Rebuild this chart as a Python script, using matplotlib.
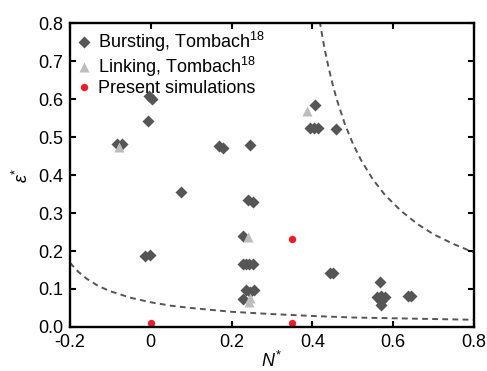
import numpy as np
import matplotlib
matplotlib.use('Agg')
import matplotlib.pyplot as plt

plt.rcParams['font.family'] = ['Liberation Sans', 'DejaVu Sans']
plt.rcParams['mathtext.fontset'] = 'custom'
plt.rcParams['mathtext.rm'] = 'Liberation Sans'
plt.rcParams['mathtext.it'] = 'Liberation Sans:italic'
plt.rcParams['mathtext.default'] = 'regular'

# Tombach, bursting (N*, eps*)
burst_n = [-0.005, 0.003, -0.008, -0.084, -0.072, 0.168, 0.178, 0.246,
           0.406, 0.395, 0.405, 0.415, 0.458, 0.074, -0.014, -0.002,
           0.240, 0.252, 0.229, 0.228, 0.236, 0.244, 0.252,
           0.235, 0.245, 0.255, 0.229, 0.443, 0.452,
           0.567, 0.560, 0.570, 0.580, 0.570, 0.570, 0.636, 0.644]
burst_e = [0.607, 0.600, 0.542, 0.481, 0.481, 0.476, 0.471, 0.479,
           0.583, 0.524, 0.524, 0.524, 0.520, 0.354, 0.188, 0.189,
           0.335, 0.330, 0.239, 0.165, 0.165, 0.165, 0.165,
           0.097, 0.093, 0.097, 0.073, 0.143, 0.143,
           0.118, 0.080, 0.082, 0.080, 0.068, 0.058, 0.082, 0.082]

# Tombach, linking
link_n = [-0.079, 0.387, 0.241, 0.246, 0.244]
link_e = [0.474, 0.569, 0.237, 0.077, 0.067]

# present simulations
sim_n = [0.0, 0.349, 0.349]
sim_e = [0.01, 0.231, 0.01]

# dashed boundaries
low_n = [-0.2, -0.18, -0.16, -0.13, -0.1, -0.05, 0.0, 0.05, 0.1, 0.2,
         0.3, 0.4, 0.5, 0.6, 0.7, 0.8]
low_e = [0.169, 0.146, 0.128, 0.108, 0.094, 0.077, 0.065, 0.056, 0.050,
         0.040, 0.034, 0.029, 0.025, 0.023, 0.021, 0.019]
up_n = [0.418, 0.43, 0.44, 0.45, 0.46, 0.48, 0.50, 0.52, 0.55, 0.58,
        0.62, 0.66, 0.70, 0.75, 0.80]
up_e = [0.805, 0.733, 0.683, 0.639, 0.600, 0.535, 0.483, 0.440, 0.388,
        0.347, 0.305, 0.271, 0.244, 0.218, 0.196]

fig = plt.figure(figsize=(4.87, 3.71), dpi=100)
ax = fig.add_axes([0.1437, 0.1186, 0.8296, 0.8194])

dash = (3, 2.2)
ax.plot(low_n, low_e, ls='--', dashes=dash, c='#555555', lw=1.4)
ax.plot(up_n, up_e, ls='--', dashes=dash, c='#555555', lw=1.4)

ax.plot(burst_n, burst_e, 'D', ms=6, c='#555555', mec='none',
        label='Bursting, Tombach$^{18}$')
ax.plot(link_n, link_e, '^', ms=7.5, c='#bdbdbd', mec='none',
        label='Linking, Tombach$^{18}$')
ax.plot(sim_n, sim_e, 'o', ms=5.3, c='#ee1c24', mec='none',
        label='Present simulations')

ax.set_xlim(-0.2, 0.8)
ax.set_ylim(0, 0.8)
ax.set_xticks([-0.2, 0, 0.2, 0.4, 0.6, 0.8])
ax.set_xticklabels(['-0.2', '0', '0.2', '0.4', '0.6', '0.8'])
ax.set_yticks(np.arange(0, 0.81, 0.1))
ax.set_yticklabels(['%.1f' % v for v in np.arange(0, 0.81, 0.1)])

for s in ax.spines.values():
    s.set_linewidth(1.7)
ax.tick_params(axis='both', direction='in', length=4, width=1.5,
               labelsize=13, top=True, right=True)
ax.tick_params(axis='y', pad=5)
ax.tick_params(axis='x', pad=5)

ax.set_xlabel('$\\mathit{N}^{*}$', fontsize=13, labelpad=0)
ax.set_ylabel('$\\mathit{\\varepsilon}^{*}$', fontsize=13, labelpad=4)

ax.legend(loc='upper left', frameon=False, fontsize=13,
          handlelength=0.7, handletextpad=0.45, labelspacing=0.05,
          borderaxespad=0.3, borderpad=0.1)

fig.savefig('out.png', dpi=100)
